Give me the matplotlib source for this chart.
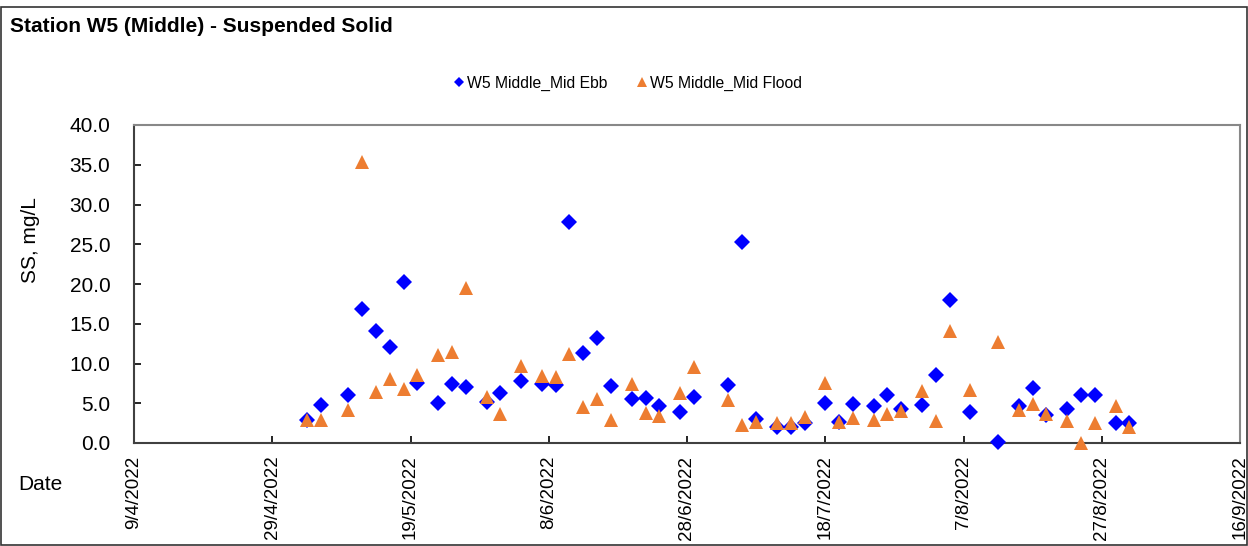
import matplotlib
matplotlib.use("Agg")
import matplotlib.pyplot as plt
from matplotlib.patches import Rectangle
import pandas as pd

# 采样日期 (2022)
dates = ["4/5", "6/5", "10/5", "12/5", "14/5", "16/5", "18/5", "20/5", "23/5", "25/5",
         "27/5", "30/5", "1/6", "4/6", "7/6", "9/6", "11/6", "13/6", "15/6", "17/6",
         "20/6", "22/6", "24/6", "27/6", "29/6", "4/7", "6/7", "8/7", "11/7", "13/7",
         "15/7", "18/7", "20/7", "22/7", "25/7", "27/7", "29/7", "1/8", "3/8", "5/8",
         "8/8", "12/8", "15/8", "17/8", "19/8", "22/8", "24/8", "26/8", "29/8", "31/8"]

ebb = [2.9, 4.8, 6.0, 16.9, 14.1, 12.1, 20.2, 7.5, 5.0, 7.4,
       7.0, 5.1, 6.3, 7.8, 7.4, 7.3, 27.8, 11.3, 13.2, 7.2,
       5.5, 5.7, 4.6, 3.9, 5.8, 7.3, 25.3, 3.0, 2.0, 2.0,
       2.5, 5.0, 2.6, 4.9, 4.6, 6.0, 4.3, 4.8, 8.6, 18.0,
       3.9, 0.1, 4.6, 6.9, 3.5, 4.3, 6.1, 6.1, 2.5, 2.5]

flood = [2.9, 2.9, 4.2, 35.3, 6.4, 8.1, 6.8, 8.6, 11.1, 11.4,
         19.5, 5.8, 3.6, 9.7, 8.4, 8.3, 11.2, 4.5, 5.5, 2.9,
         7.4, 3.8, 3.4, 6.3, 9.6, 5.4, 2.3, 2.7, 2.5, 2.5,
         3.3, 7.6, 2.7, 3.1, 2.9, 3.6, 4.0, 6.6, 2.8, 14.1,
         6.7, 12.7, 4.2, 4.9, 3.6, 2.8, 0.0, 2.5, 4.7, 2.0]

x_ticks = ["9/4/2022", "29/4/2022", "19/5/2022", "8/6/2022", "28/6/2022",
           "18/7/2022", "7/8/2022", "27/8/2022", "16/9/2022"]
y_ticks = [0, 5, 10, 15, 20, 25, 30, 35, 40]

t = pd.to_datetime([d + "/2022" for d in dates], format="%d/%m/%Y")
tick_dt = pd.to_datetime(x_ticks, format="%d/%m/%Y")

plt.rcParams["font.family"] = ["Liberation Sans", "DejaVu Sans"]

fig = plt.figure(figsize=(12.48, 5.46), dpi=100)
ax = fig.add_axes([134 / 1248, 1 - 443 / 546, 1106 / 1248, 318 / 546])

ax.plot(t, ebb, linestyle="none", marker="D", markersize=8, color="#0000FF",
        markeredgewidth=0, label="W5 Middle_Mid Ebb", clip_on=False, zorder=3)
ax.plot(t, flood, linestyle="none", marker="^", markersize=10, color="#ED7D31",
        markeredgewidth=0, label="W5 Middle_Mid Flood", clip_on=False, zorder=3)

ax.set_xlim(tick_dt[0], tick_dt[-1])
ax.set_ylim(0, 40)
ax.set_xticks(tick_dt)
ax.set_xticklabels(x_ticks, rotation=90, fontsize=13.5)
ax.set_yticks(y_ticks)
ax.set_yticklabels([f"{v:.1f}" for v in y_ticks], fontsize=15)
ax.tick_params(direction="in", length=5, width=1.2)
ax.tick_params(axis="y", pad=17)
ax.tick_params(axis="x", pad=9)

for s in ["left", "bottom"]:
    ax.spines[s].set_color("#404040")
    ax.spines[s].set_linewidth(1.5)
for s in ["top", "right"]:
    ax.spines[s].set_color("#888888")
    ax.spines[s].set_linewidth(1.5)

fig.text(30 / 1248, 1 - 240 / 546, "SS, mg/L", fontsize=15, rotation=90,
         va="center", ha="center")

fig.text(10 / 1248, 1 - 27 / 546, "Station W5 (Middle) - Suspended Solid",
         fontsize=15, fontweight="bold", va="center", ha="left")
fig.text(18 / 1248, 1 - 485 / 546, "Date", fontsize=15, va="center", ha="left")

fig.legend(loc="center", bbox_to_anchor=(626 / 1248, 1 - 83 / 546), ncol=2,
           frameon=False, fontsize=11.3, handletextpad=-0.1, columnspacing=1.6,
           handlelength=1.2, markerscale=0.7)

fig.patches.append(Rectangle((0.0005, 0.001), 0.999, 1 - 8 / 546, transform=fig.transFigure,
                             fill=False, edgecolor="#333333", linewidth=1.2))

fig.savefig("out.png", dpi=100)
